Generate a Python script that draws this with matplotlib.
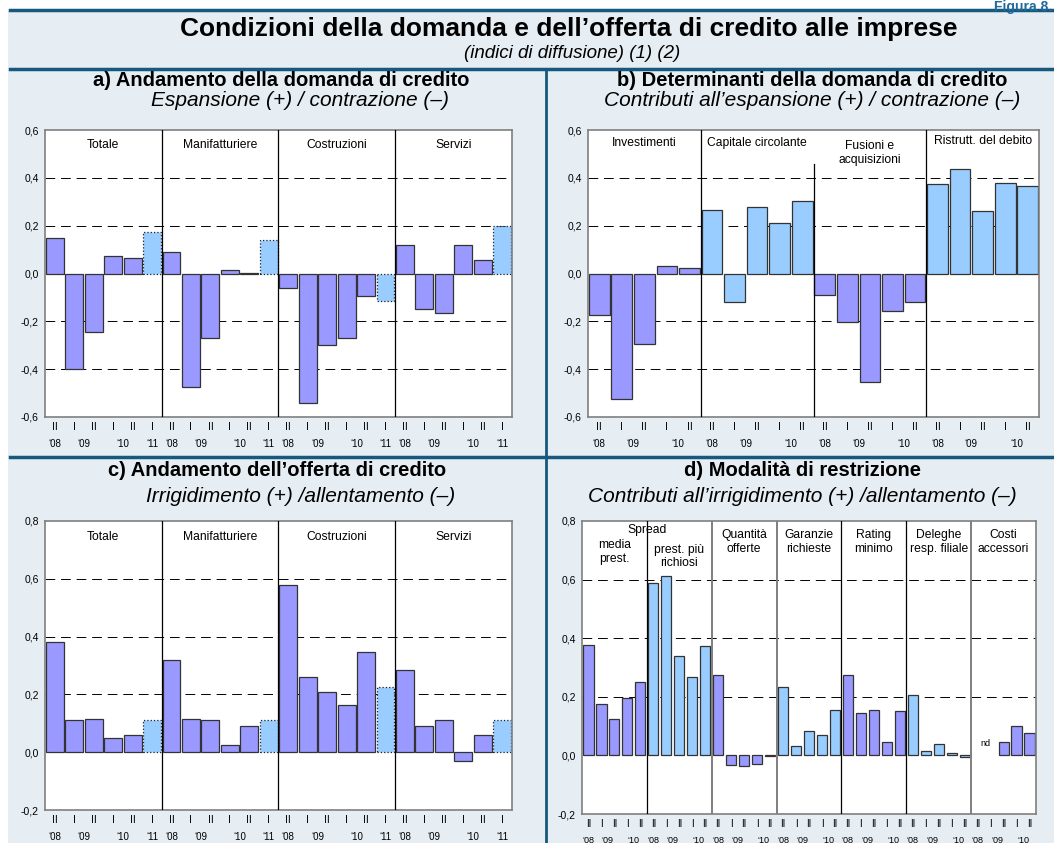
import numpy as np
import matplotlib
matplotlib.use("Agg")
import matplotlib.pyplot as plt
from matplotlib.lines import Line2D
from matplotlib.patches import Rectangle
from matplotlib.transforms import blended_transform_factory

plt.rcParams['font.family'] = ['Liberation Sans', 'DejaVu Sans']

W, H = 1054, 843

# ---- data ----
half_years_6 = ["II", "I", "II", "I", "II", "I"]
year_labels_6 = ["\u201808", "\u201809", "\u201810", "\u201811"]
year_pos_6 = [0, 1.5, 3.5, 5]

half_years_5 = ["II", "I", "II", "I", "II"]
year_labels_5 = ["\u201808", "\u201809", "\u201810"]
year_pos_5 = [0, 1.5, 3.5]

sectors = ["Totale", "Manifatturiere", "Costruzioni", "Servizi"]

# a) andamento della domanda
dom_totale = [0.15, -0.40, -0.245, 0.075, 0.065, 0.175]
dom_manif = [0.09, -0.475, -0.27, 0.015, 0.002, 0.14]
dom_costr = [-0.06, -0.54, -0.30, -0.27, -0.095, -0.115]
dom_serv = [0.12, -0.15, -0.165, 0.12, 0.055, 0.20]

# b) determinanti della domanda
det_labels = ["Investimenti", "Capitale circolante", "Fusioni e\nacquisizioni", "Ristrutt. del debito"]
det_invest = [-0.175, -0.525, -0.296, 0.033, 0.024]
det_capit = [0.265, -0.118, 0.276, 0.21, 0.304]
det_fusioni = [-0.09, -0.204, -0.452, -0.158, -0.12]
det_ristr = [0.373, 0.438, 0.26, 0.379, 0.365]

# c) andamento dell'offerta
off_totale = [0.38, 0.11, 0.115, 0.05, 0.06, 0.11]
off_manif = [0.32, 0.115, 0.11, 0.025, 0.092, 0.11]
off_costr = [0.58, 0.26, 0.21, 0.164, 0.345, 0.224]
off_serv = [0.284, 0.092, 0.111, -0.029, 0.06, 0.11]

# d) modalita' di restrizione
mod_labels = ["media\nprest.", "prest. più\nrichiosi", "Quantità\nofferte", "Garanzie\nrichieste",
              "Rating\nminimo", "Deleghe\nresp. filiale", "Costi\naccessori"]
mod_media = [0.376, 0.175, 0.125, 0.197, 0.252]
mod_rischiosi = [0.59, 0.611, 0.338, 0.269, 0.373]
mod_quantita = [0.276, -0.033, -0.037, -0.029, -0.003]
mod_garanzie = [0.234, 0.032, 0.083, 0.071, 0.155]
mod_rating = [0.276, 0.145, 0.156, 0.047, 0.151]
mod_deleghe = [0.206, 0.014, 0.04, 0.009, -0.006]
mod_costi = [np.nan, np.nan, 0.046, 0.101, 0.076]

PURPLE = '#9999ff'
CYAN = '#99ccff'
BG = '#e6eef4'
NAVY = '#17587f'
GRID_LS = (0, (10, 6))


def fx(px):
    return px / W


def fy(py):
    return 1 - py / H


fig = plt.figure(figsize=(W / 100, H / 100), dpi=100)
fig.patch.set_facecolor('white')

# background and frame lines
fig.add_artist(Rectangle((fx(8), 0), 1 - fx(8), fy(10), transform=fig.transFigure,
                         facecolor=BG, edgecolor='none', zorder=0))
for yy in [10, 69, 457]:
    fig.add_artist(Line2D([fx(10), 1], [fy(yy), fy(yy)], color=NAVY, lw=2.5, zorder=1))
fig.add_artist(Line2D([fx(546), fx(546)], [fy(69), 0], color=NAVY, lw=2, zorder=1))

fig.text(fx(1052), fy(0.5), "Figura 8.", color='#1f6b9c', fontsize=10, fontweight='bold',
         ha='right', va='top')
fig.text(fx(569), fy(29), "Condizioni della domanda e dell\u2019offerta di credito alle imprese",
         fontsize=19, fontweight='bold', ha='center', va='center')
fig.text(fx(572), fy(54), "(indici di diffusione) (1) (2)", fontsize=13.5, style='italic',
         ha='center', va='center')

fig.text(fx(281), fy(81), "a) Andamento della domanda di credito", fontsize=14.5,
         fontweight='bold', ha='center', va='center')
fig.text(fx(300), fy(101), "Espansione (+) / contrazione (\u2013)", fontsize=15,
         style='italic', ha='center', va='center')
fig.text(fx(812), fy(81), "b) Determinanti della domanda di credito", fontsize=14.5,
         fontweight='bold', ha='center', va='center')
fig.text(fx(812), fy(101), "Contributi all\u2019espansione (+) / contrazione (\u2013)", fontsize=15,
         style='italic', ha='center', va='center')
fig.text(fx(277), fy(471), "c) Andamento dell\u2019offerta di credito", fontsize=14.5,
         fontweight='bold', ha='center', va='center')
fig.text(fx(301), fy(496), "Irrigidimento (+) /allentamento (\u2013)", fontsize=15,
         style='italic', ha='center', va='center')
fig.text(fx(802), fy(471), "d) Modalità di restrizione", fontsize=14.5,
         fontweight='bold', ha='center', va='center')
fig.text(fx(802), fy(496), "Contributi all\u2019irrigidimento (+) /allentamento (\u2013)", fontsize=15,
         style='italic', ha='center', va='center')


def panel(box, series, colors, labels, label_y, ylim, step, width, quarters, years, year_pos,
          forecast=False, divider_cols=None, divider_top=None, xsize=7):
    left, top, right, bottom = box
    ax = fig.add_axes([fx(left), fy(bottom), (right - left) / W, (bottom - top) / H])
    ax.set_facecolor('white')
    n = len(series[0])
    ng = len(series)
    for g, (vals, col) in enumerate(zip(series, colors)):
        x = np.arange(n) + g * n
        vals = np.asarray(vals, dtype=float)
        if forecast:
            ax.bar(x[:-1], vals[:-1], width=width, color=col, edgecolor='#333333', lw=0.9, zorder=2)
            ax.bar(x[-1], vals[-1], width=width, color=CYAN, edgecolor='#222222', lw=0.9,
                   linestyle=':', zorder=2)
        else:
            ok = ~np.isnan(vals)
            ax.bar(x[ok], vals[ok], width=width, color=col, edgecolor='#333333', lw=0.9, zorder=2)
    # dashed grid
    ticks = np.round(np.arange(ylim[0], ylim[1] + step / 2, step), 2)
    for v in ticks[1:-1]:
        if abs(v) > 1e-9:
            ax.axhline(v, color='black', lw=0.7, ls=GRID_LS, zorder=1)
    # group dividers
    for g in range(1, ng):
        c = divider_cols[g - 1] if divider_cols else 'black'
        lw = 1.4 if c != 'black' else 0.9
        top_frac = divider_top[g - 1] if divider_top else 1
        ax.axvline(g * n - 0.5, ymin=0, ymax=top_frac, color=c, lw=lw, zorder=3)
    trans = blended_transform_factory(ax.transData, ax.transAxes)
    for g, lab in enumerate(labels):
        if lab:
            ax.text(g * n + (n - 1) / 2, label_y[g], lab, transform=trans, ha='center',
                    va='center', fontsize=8.7)
    ax.set_xlim(-0.5, n * ng - 0.5)
    ax.set_ylim(*ylim)
    ax.set_yticks(ticks)
    ax.set_yticklabels([f"{v:.1f}".replace('.', ',') for v in ticks])
    ax.tick_params(axis='y', length=0, pad=4.5, labelsize=7.5)
    ax.set_xticks(np.arange(n * ng))
    ax.set_xticklabels(quarters * ng)
    ax.set_xticks([p + g * n for g in range(ng) for p in year_pos], minor=True)
    ax.set_xticklabels(years * ng, minor=True)
    ax.xaxis.remove_overlapping_locs = False
    ax.tick_params(axis='x', which='major', length=0, pad=3.5, labelsize=xsize + 0.5)
    ax.tick_params(axis='x', which='minor', length=0, pad=15.5, labelsize=xsize)
    for s in ax.spines.values():
        s.set_color('#7f7f7f')
        s.set_linewidth(1.2)
    return ax


panel((45, 130, 512, 417), [dom_totale, dom_manif, dom_costr, dom_serv], [PURPLE] * 4,
      sectors, [0.948] * 4, (-0.6, 0.6), 0.2, 0.92, half_years_6, year_labels_6, year_pos_6,
      forecast=True)

panel((588, 130, 1039, 417), [det_invest, det_capit, det_fusioni, det_ristr],
      [PURPLE, CYAN, PURPLE, CYAN], det_labels, [0.955, 0.955, 0.92, 0.962], (-0.6, 0.6), 0.2,
      0.92, half_years_5, year_labels_5, year_pos_5, divider_top=[1, 0.88, 1])

panel((45, 521, 512, 810), [off_totale, off_manif, off_costr, off_serv], [PURPLE] * 4,
      sectors, [0.945] * 4, (-0.2, 0.8), 0.2, 0.92, half_years_6, year_labels_6, year_pos_6,
      forecast=True)

axd = panel((582, 521, 1036, 814),
            [mod_media, mod_rischiosi, mod_quantita, mod_garanzie, mod_rating, mod_deleghe, mod_costi],
            [PURPLE, CYAN, PURPLE, CYAN, PURPLE, CYAN, PURPLE], mod_labels,
            [0.894, 0.879, 0.927, 0.927, 0.927, 0.927, 0.927], (-0.2, 0.8), 0.2, 0.78,
            half_years_5, year_labels_5, year_pos_5,
            divider_cols=['black', '#7f7f7f', '#7f7f7f', 'black', 'black', '#7f7f7f'], xsize=6.5)
td = blended_transform_factory(axd.transData, axd.transAxes)
axd.text(4.5, 0.97, "Spread", transform=td, ha='center', va='center', fontsize=8.7)
axd.text(30.6, 0.025, "nd", transform=axd.transData, ha='center', va='bottom', fontsize=6.5)

fig.savefig("out.png", dpi=100, facecolor=fig.get_facecolor())
